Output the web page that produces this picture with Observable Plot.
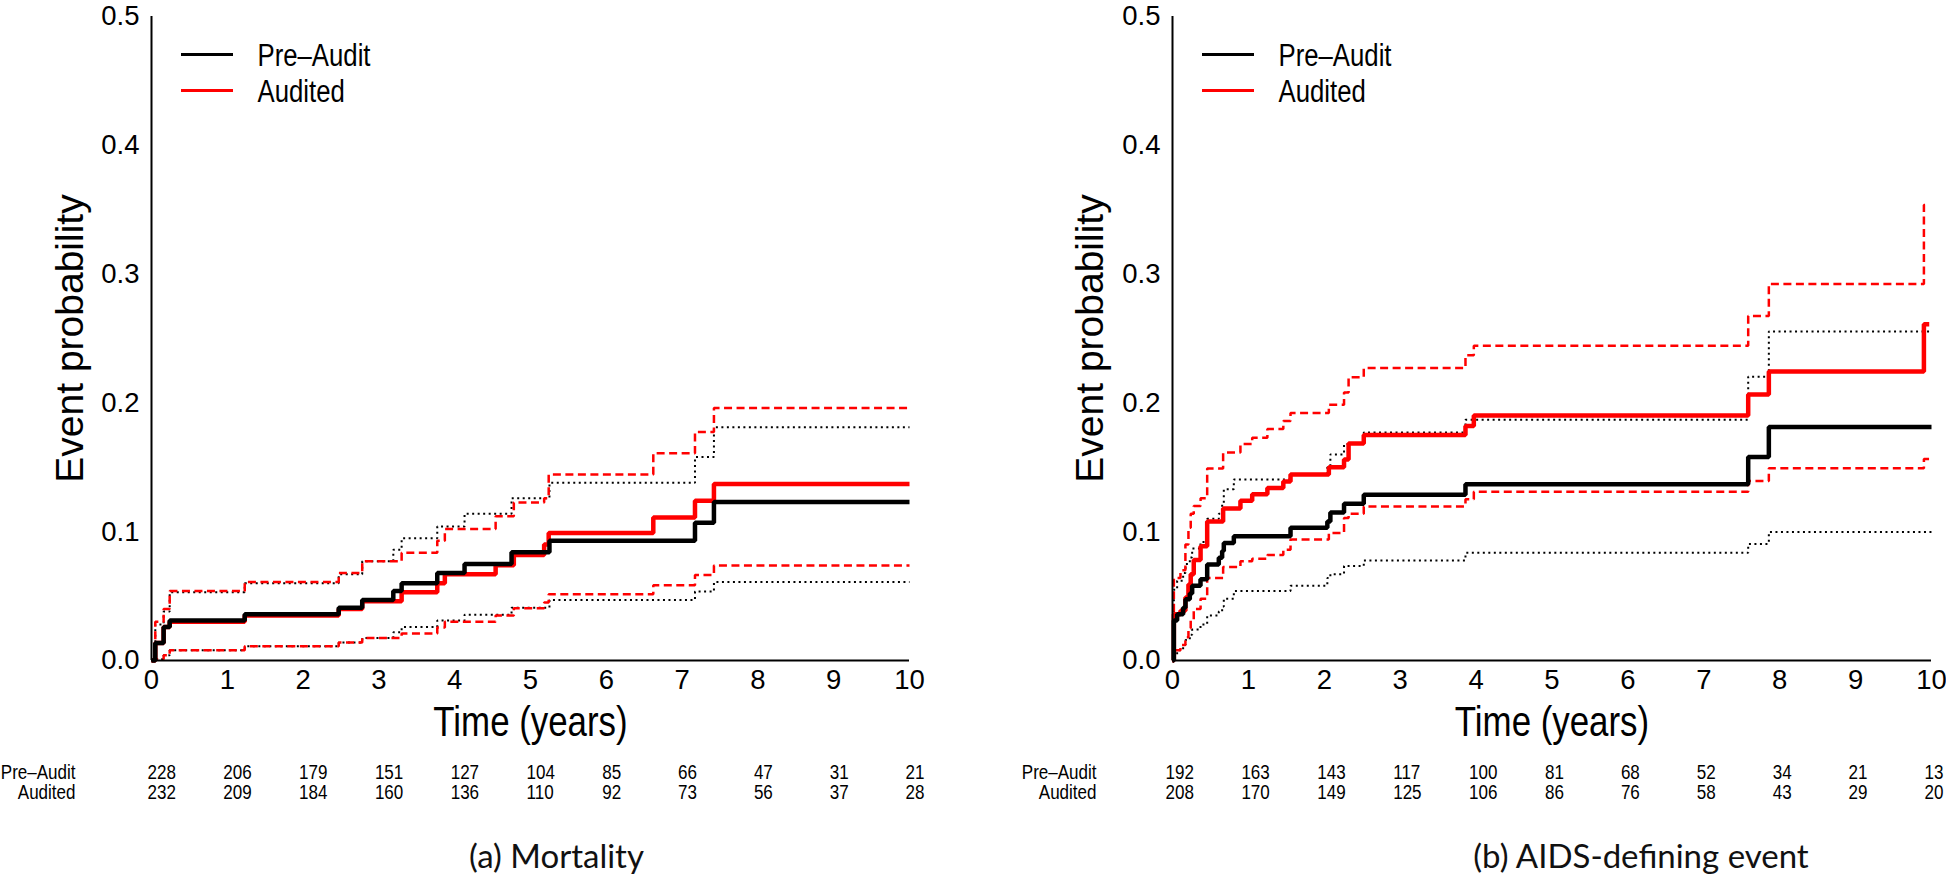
<!DOCTYPE html>
<html>
<head>
<meta charset="utf-8">
<script src="https://cdn.jsdelivr.net/npm/d3@7"></script>
<script src="https://cdn.jsdelivr.net/npm/@observablehq/plot@0.6"></script>
<style>
  body { margin: 0; background: #fff; }
  #wrap { position: relative; width: 1946px; height: 874px; overflow: hidden; background: #fff; }
  #wrap svg { position: absolute; top: 0; overflow: visible; }
  .legline { position: absolute; height: 3px; width: 52px; }
</style>
</head>
<body>
<div id="wrap"></div>
<script>
// ---------- tick labels ----------
const years = [0, 1, 2, 3, 4, 5, 6, 7, 8, 9, 10];
const probTicks = [0, 0.1, 0.2, 0.3, 0.4, 0.5];
const groups = ["Pre–Audit", "Audited"];
const captions = ["(a) Mortality", "(b) AIDS-defining event"];

// ---------- (a) Mortality ----------
const mortPreTime = [0, 0.05, 0.16, 0.24, 1.23, 2.47, 2.78, 3.19, 3.30, 3.77, 4.13, 4.75, 5.25, 7.17, 7.42, 10];
const mortPreEst  = [0, 0.0135, 0.026, 0.031, 0.036, 0.041, 0.047, 0.054, 0.060, 0.068, 0.075, 0.084, 0.093, 0.107, 0.123, 0.123];
const mortPreHigh = [0, 0.028, 0.038, 0.053, 0.060, 0.067, 0.077, 0.086, 0.095, 0.104, 0.114, 0.126, 0.138, 0.158, 0.181, 0.181];
const mortPreLow  = [0, 0.001, 0.004, 0.008, 0.011, 0.014, 0.0175, 0.022, 0.026, 0.031, 0.0355, 0.041, 0.047, 0.0535, 0.061, 0.061];

const mortAudTime = [0, 0.05, 0.16, 0.24, 1.23, 2.47, 2.78, 3.30, 3.77, 3.87, 4.54, 4.78, 5.18, 5.24, 6.62, 7.17, 7.42, 10];
const mortAudEst  = [0, 0.0135, 0.026, 0.030, 0.035, 0.040, 0.046, 0.053, 0.060, 0.067, 0.074, 0.082, 0.090, 0.099, 0.111, 0.124, 0.137, 0.137];
const mortAudHigh = [0, 0.030, 0.040, 0.054, 0.061, 0.068, 0.077, 0.0836, 0.093, 0.102, 0.112, 0.1227, 0.126, 0.1445, 0.161, 0.1775, 0.196, 0.196];
const mortAudLow  = [0, 0.001, 0.004, 0.008, 0.011, 0.014, 0.0175, 0.021, 0.0257, 0.030, 0.035, 0.0406, 0.045, 0.0514, 0.0584, 0.0664, 0.0738, 0.0738];

const mortPreAtRisk = [228, 206, 179, 151, 127, 104, 85, 66, 47, 31, 21];
const mortAudAtRisk = [232, 209, 184, 160, 136, 110, 92, 73, 56, 37, 28];

// ---------- (b) AIDS-defining event ----------
const aidsPreTime = [0, 0.018, 0.061, 0.14, 0.171, 0.228, 0.259, 0.369, 0.457, 0.61, 0.654, 0.676, 0.808, 1.555, 2.04, 2.08, 2.26, 2.52, 3.86, 7.585, 7.857, 10];
const aidsPreEst  = [0, 0.031, 0.036, 0.041, 0.0476, 0.052, 0.058, 0.063, 0.0746, 0.0797, 0.085, 0.0913, 0.0965, 0.103, 0.108, 0.115, 0.1217, 0.1286, 0.1368, 0.158, 0.1813, 0.1813];
const aidsPreHigh = [0, 0.055, 0.062, 0.068, 0.075, 0.080, 0.087, 0.092, 0.110, 0.114, 0.122, 0.133, 0.1406, 0.1445, 0.150, 0.160, 0.168, 0.177, 0.187, 0.2204, 0.2554, 0.2554];
const aidsPreLow  = [0, 0.004, 0.008, 0.012, 0.016, 0.020, 0.024, 0.028, 0.035, 0.038, 0.042, 0.048, 0.054, 0.058, 0.064, 0.067, 0.0733, 0.0777, 0.0836, 0.0905, 0.0998, 0.0998];

const aidsAudTime = [0, 0.018, 0.105, 0.17, 0.21, 0.24, 0.28, 0.37, 0.457, 0.667, 0.895, 1.05, 1.25, 1.46, 1.555, 2.06, 2.26, 2.32, 2.52, 3.86, 3.97, 7.585, 7.857, 9.90, 9.97];
const aidsAudEst  = [0, 0.036, 0.0386, 0.049, 0.059, 0.067, 0.078, 0.0887, 0.108, 0.118, 0.124, 0.129, 0.134, 0.139, 0.1445, 0.150, 0.156, 0.1685, 0.175, 0.1821, 0.1903, 0.2065, 0.2243, 0.261, 0.261];
const aidsAudHigh = [0, 0.064, 0.070, 0.090, 0.103, 0.114, 0.120, 0.126, 0.149, 0.1615, 0.168, 0.173, 0.1798, 0.186, 0.1921, 0.1986, 0.208, 0.220, 0.227, 0.237, 0.2443, 0.2675, 0.2924, 0.3536, 0.3536];
const aidsAudLow  = [0, 0.008, 0.012, 0.018, 0.025, 0.031, 0.040, 0.048, 0.064, 0.0725, 0.077, 0.079, 0.082, 0.086, 0.0939, 0.099, 0.1106, 0.114, 0.1196, 0.1252, 0.131, 0.1394, 0.1492, 0.1564, 0.1564];

const aidsPreAtRisk = [192, 163, 143, 117, 100, 81, 68, 52, 34, 21, 13];
const aidsAudAtRisk = [208, 170, 149, 125, 106, 86, 76, 58, 43, 29, 20];

// ---------- helpers ----------
const rows = (t, p) => t.map((d, i) => ({t: d, p: p[i]}));
const NARROW = "'Liberation Sans', Arial, sans-serif";          // condensed afterwards
const REG = "'Liberation Sans', Arial, Helvetica, sans-serif";
const NARROW_FACTOR = 0.83;
const TOP = 16;

function panel(cfg) {
  const line = (t, p, stroke, sw, dash) =>
    Plot.line(rows(t, p), {x: "t", y: "p", curve: "step-after", stroke, strokeWidth: sw, strokeDasharray: dash, strokeLinejoin: "miter", strokeLinecap: "butt"});
  return Plot.plot({
    width: cfg.width,
    height: 874,
    marginTop: TOP,
    marginBottom: 214,
    marginLeft: cfg.marginLeft,
    marginRight: cfg.marginRight,
    x: {domain: [0, 10]},
    y: {domain: [0, 0.5]},
    style: {fontFamily: REG, background: "transparent", overflow: "visible", color: "#000"},
    marks: [
      Plot.axisY(probTicks, {tickSize: 0, tickPadding: 12, tickFormat: d3.format(".1f"), fontSize: 27.5, label: null}),
      Plot.axisX(years, {tickSize: 0, tickPadding: 9, tickFormat: d => String(d), fontSize: 27.5, label: null}),
      line(cfg.pre.t, cfg.pre.hi, "#000", 2, "2,3.5"),
      line(cfg.pre.t, cfg.pre.lo, "#000", 2, "2,3.5"),
      line(cfg.aud.t, cfg.aud.hi, "#ff0000", 2.5, "8,4.5"),
      line(cfg.aud.t, cfg.aud.lo, "#ff0000", 2.5, "8,4.5"),
      line(cfg.aud.t, cfg.aud.est, "#ff0000", 4.5),
      line(cfg.pre.t, cfg.pre.est, "#000", 4.5),
      Plot.ruleX([0], {stroke: "#000", strokeWidth: 2}),
      Plot.ruleY([0], {stroke: "#000", strokeWidth: 2}),
      // legend texts
      Plot.text([groups[0]], {text: d => d, frameAnchor: "top-left", dx: 106, dy: 65 - TOP, textAnchor: "start", lineAnchor: "bottom", fontSize: 31, fontFamily: NARROW}),
      Plot.text([groups[1]], {text: d => d, frameAnchor: "top-left", dx: 106, dy: 101.5 - TOP, textAnchor: "start", lineAnchor: "bottom", fontSize: 31, fontFamily: NARROW}),
      // axis titles
      Plot.text(["Time (years)"], {text: d => d, frameAnchor: "bottom", dy: 75, textAnchor: "middle", lineAnchor: "bottom", fontSize: 42, fontFamily: NARROW}),
      Plot.text(["Event probability"], {text: d => d, frameAnchor: "left", dx: cfg.ylabDx, textAnchor: "middle", lineAnchor: "middle", rotate: -90, fontSize: 39, fontFamily: REG}),
      // numbers at risk
      Plot.text(cfg.preRisk, {x: (d, i) => years[i], text: d => String(d), frameAnchor: "bottom", dx: cfg.numDx, dy: 118, textAnchor: "start", lineAnchor: "bottom", fontSize: 20.5, fontFamily: NARROW}),
      Plot.text(cfg.audRisk, {x: (d, i) => years[i], text: d => String(d), frameAnchor: "bottom", dx: cfg.numDx, dy: 138, textAnchor: "start", lineAnchor: "bottom", fontSize: 20.5, fontFamily: NARROW}),
      Plot.text([groups[0]], {text: d => d, frameAnchor: "bottom-left", dx: -76, dy: 118, textAnchor: "end", lineAnchor: "bottom", fontSize: 20.5, fontFamily: NARROW}),
      Plot.text([groups[1]], {text: d => d, frameAnchor: "bottom-left", dx: -76, dy: 138, textAnchor: "end", lineAnchor: "bottom", fontSize: 20.5, fontFamily: NARROW}),
      // caption
      Plot.text([cfg.caption], {text: d => d, frameAnchor: "bottom", dx: cfg.captionDx, dy: 207, textAnchor: "middle", lineAnchor: "bottom", fontSize: 33, fontFamily: "Lato, 'Open Sans', sans-serif", fill: "#111"})
    ]
  });
}

function condense(svg) {
  svg.querySelectorAll("g").forEach(g => {
    if (g.getAttribute("font-family") !== NARROW) return;
    g.querySelectorAll("text").forEach(t => {
      const len = t.getComputedTextLength();
      if (len > 0) {
        t.setAttribute("textLength", (len * NARROW_FACTOR).toFixed(2));
        t.setAttribute("lengthAdjust", "spacingAndGlyphs");
      }
    });
  });
}

const wrap = document.getElementById("wrap");
const panels = [
  {left: 0, width: 973, marginLeft: 151, marginRight: 64, captionDx: 26, ylabDx: -81, numDx: -4, caption: captions[0],
   pre: {t: mortPreTime, est: mortPreEst, lo: mortPreLow, hi: mortPreHigh},
   aud: {t: mortAudTime, est: mortAudEst, lo: mortAudLow, hi: mortAudHigh},
   preRisk: mortPreAtRisk, audRisk: mortAudAtRisk},
  {left: 973, width: 973, marginLeft: 199, marginRight: 15, captionDx: 89, ylabDx: -82, numDx: -7, caption: captions[1],
   pre: {t: aidsPreTime, est: aidsPreEst, lo: aidsPreLow, hi: aidsPreHigh},
   aud: {t: aidsAudTime, est: aidsAudEst, lo: aidsAudLow, hi: aidsAudHigh},
   preRisk: aidsPreAtRisk, audRisk: aidsAudAtRisk}
];
for (const cfg of panels) {
  const svg = panel(cfg);
  svg.style.left = cfg.left + "px";
  wrap.appendChild(svg);
  condense(svg);
  // legend line samples
  const ax = cfg.left + cfg.marginLeft;
  [["#000", 52.5], ["#ff0000", 88.5]].forEach(([c, top]) => {
    const d = document.createElement("div");
    d.className = "legline";
    d.style.left = (ax + 30) + "px";
    d.style.top = top + "px";
    d.style.background = c;
    wrap.appendChild(d);
  });
}
</script>
</body>
</html>
